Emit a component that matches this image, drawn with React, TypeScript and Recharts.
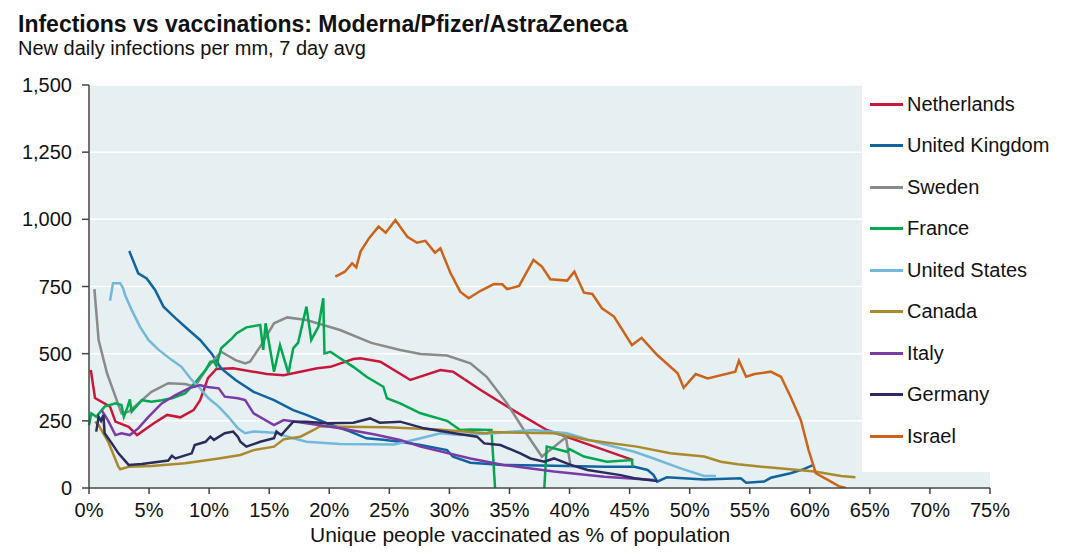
import { LineChart, Line, XAxis, YAxis, CartesianGrid } from 'recharts';

// each point: [% vaccinated, new daily infections per mm]
const netherlands: [number, number][] = [
  [0.15, 439], [0.5, 335], [1.75, 303], [2.2, 247], [3.3, 228], [4, 197], [5.4, 241], [6.5, 272],
  [7.6, 263], [8.7, 290], [9.25, 327], [9.9, 409], [10.6, 443], [12, 446], [14.8, 424], [16.2, 420],
  [17.6, 433], [19, 446], [20.1, 451], [22, 480], [22.6, 483], [24.25, 470], [26.75, 402], [29.25, 439],
  [30.3, 433], [32.6, 365], [35.3, 290], [38.1, 216], [45.3, 104],
];

const unitedKingdom: [number, number][] = [
  [3.35, 882], [4.1, 799], [4.8, 780], [5.5, 737], [6.2, 675], [7.2, 632], [8.3, 588], [9.25, 551],
  [10.2, 501], [11, 445], [12.2, 402], [13.7, 358], [15.4, 327], [17, 290], [18.1, 272], [19.8, 241],
  [21.75, 210], [23.1, 185], [24.5, 180], [25.9, 172], [27.6, 160], [29.8, 141], [30.3, 117],
  [31.75, 94], [34.5, 86], [38.7, 83], [42.9, 79], [45.4, 79], [46.5, 67], [47, 48], [47.3, 24],
  [48.1, 40], [51.2, 32], [54.25, 36], [54.7, 20], [56.2, 24], [56.75, 38], [58.4, 55], [59.5, 70],
  [60.3, 86],
];

const sweden: [number, number][] = [
  [0.45, 740], [0.8, 551], [1.5, 427], [2.2, 340], [2.7, 278], [3.3, 284], [4.1, 315], [5.2, 358],
  [6.6, 390], [8, 387], [8.8, 377], [9.9, 451], [11, 507], [12.2, 476], [13, 464], [13.4, 470],
  [14.25, 526], [15.4, 613], [16.5, 635], [18.1, 625], [20.9, 588], [23.5, 540], [25.9, 514],
  [27.6, 499], [29.8, 493], [31.75, 464], [33.1, 414], [34.8, 315], [36.2, 216], [37.7, 117],
  [39.7, 189], [40.1, 79],
];

const france: [number, number | null][] = [
  [0, 234], [0.2, 278], [0.6, 265], [1.3, 303], [2.2, 315], [2.7, 309], [2.9, 265], [3.2, 300],
  [3.4, 330], [3.55, 284], [4.4, 327], [5.2, 321], [6.05, 327], [6.9, 334], [8, 352], [8.8, 390],
  [9.7, 439], [10.1, 470], [10.4, 470], [10.6, 455], [11, 520], [11.9, 557], [12.3, 576], [13.1, 598],
  [14.25, 607], [14.5, 514], [14.7, 613], [15.4, 433], [15.9, 532], [16.6, 427], [17, 520],
  [17.4, 540], [18.1, 675], [18.5, 551], [19.1, 601], [19.5, 706], [19.6, 501], [20.1, 507],
  [20.9, 483], [22, 451], [23.1, 414], [24.5, 377], [24.8, 334], [25.9, 315], [27.6, 278],
  [29.8, 250], [30.9, 216], [31.75, 218], [33.5, 216], [33.8, 0], [34, null], [37.8, null],
  [37.9, 0], [38.1, 154], [39.8, 135], [40, 145], [41.2, 117], [43.1, 98], [45.2, 104], [45.25, 79],
];

const unitedStates: [number, number][] = [
  [1.75, 697], [2.0, 762], [2.6, 762], [2.85, 743], [3, 718], [3.55, 663], [4.25, 600], [4.95, 551],
  [5.8, 514], [6.9, 476], [7.7, 451], [8.55, 402], [9.25, 371], [9.95, 334], [10.8, 303], [11.6, 265],
  [12.4, 222], [13, 204], [13.7, 210], [15.4, 206], [17, 185], [18.1, 172], [20.9, 164], [25.4, 162],
  [27.6, 185], [29.25, 204], [30.9, 197], [33.7, 204], [37, 216], [39.8, 204], [42.6, 166],
  [45.4, 135], [47, 110], [49.25, 73], [51.2, 45], [52.2, 45],
];

const canada: [number, number][] = [
  [0.5, 247], [0.8, 234], [1.6, 172], [2.45, 79], [2.6, 70], [3.3, 79], [5.2, 82], [8, 92],
  [10.8, 110], [12.6, 123], [13.7, 141], [15.4, 154], [16.2, 181], [17.6, 191], [18.7, 216],
  [19.25, 230], [20.9, 228], [24.8, 226], [29, 218], [33.1, 204], [33.4, 208], [38.7, 204],
  [41.5, 179], [45.6, 154], [48.4, 129], [51.2, 117], [52.6, 98], [54, 88], [56.75, 76], [60.4, 61],
  [62.6, 45], [63.8, 40],
];

const italy: [number, number][] = [
  [1.05, 290], [1.6, 250], [2.2, 197], [2.7, 204], [3.4, 197], [4.1, 222], [4.95, 265], [6.05, 315],
  [7.2, 346], [8.3, 371], [9.25, 383], [9.7, 377], [10.8, 371], [11.3, 340], [12.4, 334], [13, 327],
  [13.7, 278], [15.4, 234], [16.2, 253], [18.1, 241], [20.9, 222], [23.7, 200], [25.9, 179],
  [27.6, 154], [31.75, 110], [34.5, 86], [38.7, 61], [42.9, 42], [47, 30],
];

const germany: [number, number][] = [
  [0.6, 210], [0.8, 265], [1.0, 250], [1.2, 272], [1.3, 204], [1.9, 166], [2.45, 129], [3.3, 86],
  [4.4, 89], [6.6, 102], [6.9, 120], [7.2, 110], [8.55, 129], [8.8, 160], [9.7, 172], [10.1, 191],
  [10.4, 179], [11.3, 204], [12, 210], [12.4, 190], [12.6, 172], [13.1, 154], [14.25, 172],
  [15.4, 185], [15.6, 210], [16, 197], [17, 247], [18.1, 247], [19.8, 241], [22, 243], [23.4, 259],
  [24.2, 243], [25.9, 247], [27.9, 222], [30.4, 204], [32.3, 191], [32.9, 166], [34.25, 160],
  [35.9, 129], [36.75, 110], [37.9, 98], [38.7, 110], [40.1, 86], [41.5, 67], [44.25, 48], [45.4, 36],
  [47.3, 26],
];

const israel: [number, number][] = [
  [20.5, 787], [21.3, 805], [21.9, 836], [22.25, 821], [22.6, 880], [23.3, 929], [24.1, 973],
  [24.7, 950], [25.5, 997], [26.5, 935], [27.3, 913], [28, 920], [28.8, 876], [29.25, 892],
  [30.1, 799], [30.9, 731], [31.6, 706], [32.6, 734], [33.7, 759], [34.4, 758], [34.8, 740],
  [35.8, 752], [37, 849], [37.7, 824], [38.4, 777], [39.8, 772], [40.4, 805], [41.2, 727],
  [41.9, 722], [42.7, 669], [43.7, 638], [45.2, 532], [46, 559], [47.3, 495], [49, 427], [49.5, 373],
  [50.5, 424], [51.5, 408], [53.8, 433], [54.1, 474], [54.7, 414], [55.4, 424], [56.75, 433],
  [57.6, 414], [58.4, 340], [59.25, 253], [59.9, 141], [60.5, 55], [61.5, 30], [62.4, 7], [63, 0],
];

const series = [
  { name: 'Netherlands', color: '#C8173A', points: netherlands },
  { name: 'United Kingdom', color: '#0F64A0', points: unitedKingdom },
  { name: 'Sweden', color: '#8A8A8A', points: sweden },
  { name: 'France', color: '#00A84F', points: france },
  { name: 'United States', color: '#72B8DA', points: unitedStates },
  { name: 'Canada', color: '#A98A2C', points: canada },
  { name: 'Italy', color: '#7B3AA5', points: italy },
  { name: 'Germany', color: '#2C2B5E', points: germany },
  { name: 'Israel', color: '#CD6318', points: israel },
];

const yTicks = [0, 250, 500, 750, 1000, 1250, 1500];
const xTicks = [0, 5, 10, 15, 20, 25, 30, 35, 40, 45, 50, 55, 60, 65, 70, 75];

const FONT = '"Liberation Sans", Arial, sans-serif';

export default function App() {
  return (
    <div style={{ position: 'relative', width: 1080, height: 559, fontFamily: FONT, background: '#fff' }}>
      <style>{'body { margin: 0; }'}</style>
      <div style={{ position: 'absolute', left: 18, top: 11, fontSize: 23, fontWeight: 'bold', color: '#111', whiteSpace: 'nowrap' }}>
        Infections vs vaccinations: Moderna/Pfizer/AstraZeneca
      </div>
      <div style={{ position: 'absolute', left: 18, top: 37, fontSize: 20, color: '#111', whiteSpace: 'nowrap' }}>
        New daily infections per mm, 7 day avg
      </div>

      <LineChart width={1080} height={559} margin={{ top: 85, right: 90, bottom: 41, left: 0 }}>
        <CartesianGrid vertical={false} stroke="#ffffff" strokeWidth={1.5} fill="#E6EFF2" />
        <XAxis
          type="number"
          dataKey="x"
          domain={[0, 75]}
          ticks={xTicks}
          height={30}
          tickFormatter={(v) => `${v}%`}
          tick={{ fill: '#111', fontSize: 20, fontFamily: FONT }}
          stroke="#444"
          strokeWidth={1.5}
          tickSize={6}
          tickMargin={9}
          interval={0}
        />
        <YAxis
          type="number"
          domain={[0, 1500]}
          ticks={yTicks}
          width={89}
          tickFormatter={(v) => v.toLocaleString('en-US')}
          tick={{ fill: '#111', fontSize: 20, fontFamily: FONT }}
          stroke="#444"
          strokeWidth={1.5}
          tickSize={7}
          tickMargin={10}
          allowDataOverflow
        />
        {series.map((s) => (
          <Line
            key={s.name}
            data={s.points.map(([x, y]) => ({ x, y }))}
            dataKey="y"
            type="linear"
            stroke={s.color}
            strokeWidth={2.5}
            dot={false}
            isAnimationActive={false}
          />
        ))}
      </LineChart>

      {/* legend box sits on top of the plot area */}
      <div style={{ position: 'absolute', left: 862, top: 84, width: 218, height: 388, background: '#fff' }}>
        {series.map((s, i) => (
          <div
            key={s.name}
            style={{ position: 'absolute', left: 8, top: 20 + i * 41.5 - 12, height: 24, display: 'flex', alignItems: 'center', whiteSpace: 'nowrap' }}
          >
            <div style={{ width: 33, height: 3, background: s.color }} />
            <span style={{ marginLeft: 4, fontSize: 20, color: '#111' }}>{s.name}</span>
          </div>
        ))}
      </div>

      <div style={{ position: 'absolute', left: 310, top: 524, fontSize: 21, lineHeight: '21px', color: '#111', whiteSpace: 'nowrap' }}>
        Unique people vaccinated as % of population
      </div>
    </div>
  );
}
